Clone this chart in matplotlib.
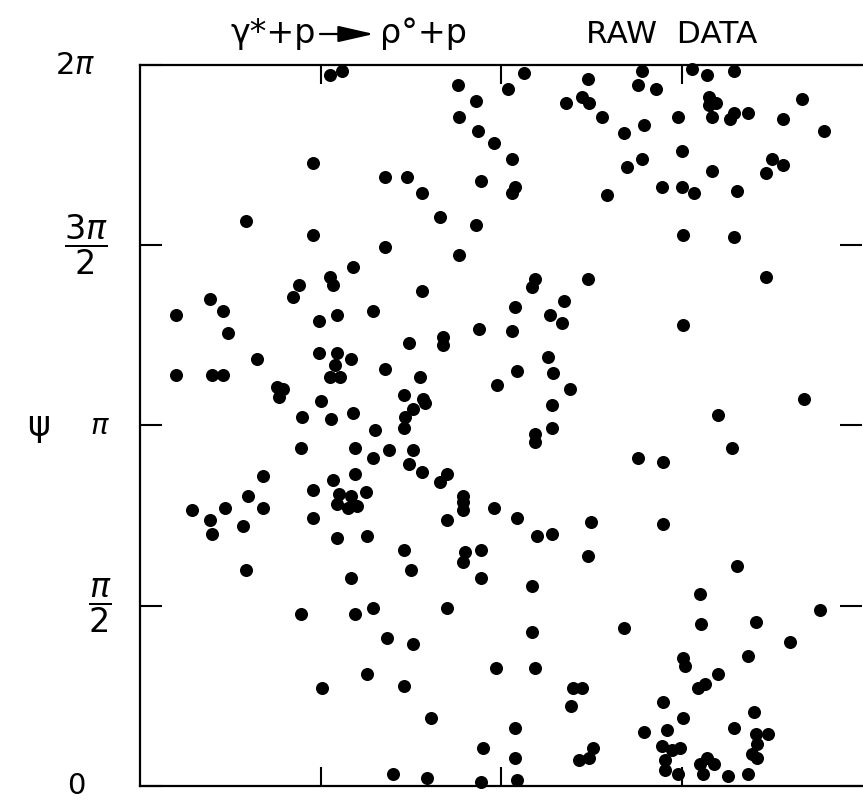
import numpy as np
import matplotlib
matplotlib.use("Agg")
import matplotlib.pyplot as plt
from matplotlib.transforms import ScaledTranslation

# raw events: x (arbitrary units, ticks at 1, 2, 3) and decay angle psi in degrees
x_vals = [
    1.05, 1.12, 2.13, 2.78, 3.06, 3.14, 3.29, 1.76, 2.04, 2.48, 2.76, 2.86,
    1.86, 2.36, 2.45, 2.49, 3.67, 3.15, 3.19, 3.15, 3.17, 1.77, 2.56, 2.98,
    3.27, 3.29, 3.37, 3.56, 1.87, 2.68, 2.79, 3.79, 1.96, 3.00, 2.06, 2.70,
    2.78, 3.50, 3.56, 3.47, 1.48, 3.17, 1.56, 1.89, 2.06, 2.08, 2.59, 2.89,
    3.00, 3.07, 3.31, 1.66, 1.86, 3.01, 3.29, 1.77, 1.56, 2.19, 2.17, 2.48,
    3.47, 2.08, 2.35, 2.27, 2.34, 3.01, 1.88, 2.06, 1.68,
    0.96, 1.36, 0.59, 0.96, 1.36, 1.18, 1.05, 1.07, 0.88, 0.85, 0.39, 0.46,
    0.20, 0.99, 1.09, 1.29, 0.49,
    0.65, 0.99, 1.09, 1.17, 1.08, 1.05, 1.11, 1.36, 0.20, 0.40, 0.46, 0.76,
    0.79, 0.77, 1.00, 0.90, 1.06, 1.18, 1.30, 0.89, 1.19, 1.38, 1.29, 0.68,
    1.07, 1.19, 0.60, 0.96, 1.10, 1.17, 1.25, 1.09, 1.15, 1.20, 0.29, 0.47,
    0.68, 0.39, 0.57, 0.40, 0.96, 1.09, 1.26, 0.59, 1.17,
    1.49, 1.68, 2.26, 2.09, 2.29, 1.98, 2.38, 1.55, 1.46, 1.57, 1.58, 1.51,
    1.47, 1.46, 2.28, 2.28, 2.19, 2.19, 3.68, 3.20, 3.28, 2.76, 2.90, 1.51,
    1.49, 1.56, 1.70, 1.66, 1.79, 1.79, 1.79, 1.96, 2.09, 1.70, 2.50, 2.90,
    2.20, 2.28, 1.46, 1.80, 1.79, 1.89, 2.48, 3.31, 1.50, 1.89,
    0.89, 1.19, 1.29, 1.37, 1.26, 1.01, 1.46, 1.40, 2.17, 1.70, 1.51, 2.17,
    1.97, 2.19, 1.61, 2.08, 1.90, 2.08, 1.59, 1.89, 2.09,
    2.68, 3.10, 3.11, 3.41, 3.77, 3.60, 3.37, 3.01, 3.02, 3.20, 3.13, 3.09,
    2.40, 2.45, 2.39, 2.90, 3.01, 3.40, 2.79, 2.92, 3.29, 3.41, 3.48, 3.42,
    2.89, 2.95, 2.99, 2.91, 2.91, 2.98, 2.51, 2.49, 2.43, 3.14, 3.18, 3.10,
    3.12, 3.26, 3.37, 3.39, 3.42,
]
psi_deg = [
    355, 357, 356, 357, 358, 355, 357, 350, 348, 353, 350, 348,
    342, 341, 344, 341, 343, 344, 341, 340, 334, 334, 334, 334,
    333, 336, 336, 333, 327, 326, 330, 327, 321, 317, 313, 309,
    313, 313, 310, 306, 304, 307, 296, 302, 296, 299, 295, 299,
    299, 296, 297, 284, 280, 275, 274, 265, 247, 253, 249, 253,
    254, 239, 242, 235, 231, 230, 228, 227, 224,
    311, 304, 282, 275, 269, 259, 254, 250, 250, 244, 243, 237,
    235, 232, 235, 237, 226,
    213, 216, 216, 213, 210, 204, 204, 208, 205, 205, 205, 199,
    198, 194, 192, 184, 183, 186, 178, 169, 169, 168, 164, 155,
    153, 156, 145, 148, 146, 145, 147, 141, 139, 140, 138, 139,
    139, 133, 130, 126, 134, 124, 125, 108, 104,
    221, 220, 214, 207, 206, 200, 198, 204, 195, 193, 191, 188,
    184, 179, 190, 179, 176, 172, 193, 185, 169, 164, 162, 168,
    161, 157, 156, 152, 145, 142, 138, 139, 134, 133, 132, 131,
    125, 126, 118, 117, 112, 118, 115, 110, 108, 104,
    86, 86, 89, 74, 56, 49, 50, 6, 100, 89, 71, 77,
    59, 59, 34, 29, 19, 14, 4, 2, 3,
    79, 96, 81, 82, 88, 72, 65, 64, 60, 56, 51, 49,
    49, 49, 40, 42, 34, 37, 27, 28, 29, 26, 26, 21,
    20, 18, 19, 13, 8, 6, 19, 14, 13, 14, 11, 11,
    6, 5, 6, 16, 14,
]

ytick_vals = [0, np.pi / 2, np.pi, 3 * np.pi / 2, 2 * np.pi]
ytick_labels = ["0", r"$\dfrac{\pi}{2}$", r"$\pi$", r"$\dfrac{3\pi}{2}$", r"$2\pi$"]
ytick_sizes = [21, 24, 21, 24, 22]
ytick_shift = [-14, 10, 10, -4, -15]  # pixels, to mimic hand lettering positions

plt.rcParams['font.family'] = ['DejaVu Sans']
plt.rcParams['mathtext.fontset'] = 'dejavusans'

W, H = 863, 805
fig = plt.figure(figsize=(W / 100, H / 100), dpi=100)
ax = fig.add_axes([140 / W, 19 / H, 722 / W, 721 / H])

psi = np.deg2rad(psi_deg)
ax.scatter(x_vals, psi, s=88, c="black", linewidths=0, zorder=3, clip_on=False)

ax.set_xlim(0, 4)
ax.set_ylim(0, 2 * np.pi)
ax.set_xticks([1, 2, 3])
ax.set_xticklabels([])
ax.set_yticks(ytick_vals)
ax.set_yticklabels(ytick_labels)

for side in ["left", "top", "bottom"]:
    ax.spines[side].set_linewidth(1.6)
ax.spines["right"].set_visible(False)

ax.tick_params(axis="x", which="both", direction="in", top=True, bottom=True,
               length=14, width=1.5)
ax.tick_params(axis="y", which="both", direction="in", left=True, right=True,
               length=16, width=1.5, pad=36)

for lbl, size, dx in zip(ax.get_yticklabels(), ytick_sizes, ytick_shift):
    lbl.set_fontsize(size)
    lbl.set_ha("center")
    lbl.set_va("center")
    lbl.set_transform(lbl.get_transform() + ScaledTranslation(dx / 100, 0, fig.dpi_scale_trans))

ax.set_ylabel("ψ", rotation=0, fontsize=25, va="center", ha="center")
ax.yaxis.set_label_coords(-0.141, 0.5)

# title lettering
ty = 1 - 43 / H
fig.text(316 / W, ty, "γ*+p", fontsize=24, ha="right", va="baseline")
ax.annotate("", xy=(374 / W, 1 - 34 / H), xytext=(320 / W, 1 - 34 / H),
            xycoords="figure fraction", textcoords="figure fraction",
            arrowprops=dict(arrowstyle="-|>,head_length=1.1,head_width=0.25",
                            mutation_scale=20, lw=1.6, color="black",
                            shrinkA=0, shrinkB=0))
fig.text(380 / W, ty, "ρ°+p", fontsize=24, ha="left", va="baseline")
fig.text(672 / W, ty, "RAW  DATA", fontsize=22.5, ha="center", va="baseline")

fig.savefig("out.png", dpi=100)
plt.close(fig)
